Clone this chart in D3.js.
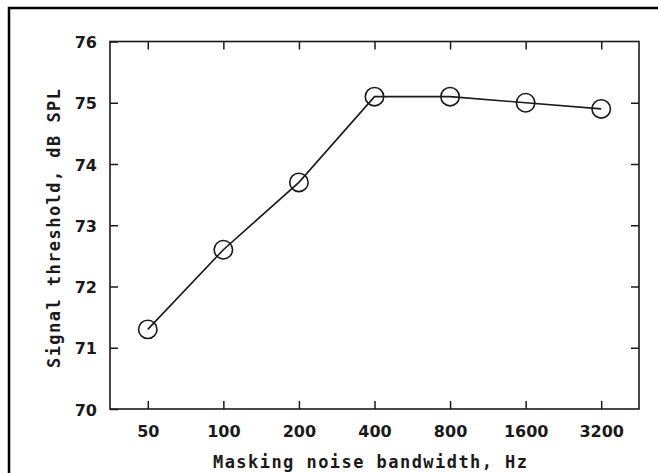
<!DOCTYPE html>
<html><head><meta charset="utf-8">
<script src="https://cdn.jsdelivr.net/npm/d3@7"></script>
<style>
html,body{margin:0;padding:0;background:#fff;}
svg{display:block;}
</style></head>
<body>
<svg id="chart" width="658" height="473"></svg>
<script>
const bandwidths = [50, 100, 200, 400, 800, 1600, 3200];
const thresholds = [71.3, 72.6, 73.7, 75.1, 75.1, 75.0, 74.9];
const xTickLabels = ["50", "100", "200", "400", "800", "1600", "3200"];
const yTicks = [70, 71, 72, 73, 74, 75, 76];
const xTitle = "Masking noise bandwidth, Hz";
const yTitle = "Signal threshold, dB SPL";

const svg = d3.select("#chart");
const m = {left: 110, top: 41.5, right: 639, bottom: 409};
const x = d3.scaleLog().base(2).domain([50 / Math.SQRT2, 3200 * Math.SQRT2]).range([m.left, m.right]);
const y = d3.scaleLinear().domain([70, 76]).range([m.bottom, m.top]);

const ink = "#1a1a1a";
const tickFont = "'DejaVu Sans', sans-serif";
const monoFont = "'DejaVu Sans Mono', monospace";

// outer frame (only top and left visible)
svg.append("path").attr("d", "M9,700 L9,8 L700,8")
  .attr("fill", "none").attr("stroke", "#000").attr("stroke-width", 2.5);

// plot box
svg.append("rect").attr("x", m.left).attr("y", m.top)
  .attr("width", m.right - m.left).attr("height", m.bottom - m.top)
  .attr("fill", "none").attr("stroke", ink).attr("stroke-width", 1.6);

const tl = 8;
function styleAxis(g) {
  g.select(".domain").remove();
  g.selectAll(".tick line").attr("stroke", ink).attr("stroke-width", 1.5);
}
// bottom axis (ticks inward)
svg.append("g").attr("transform", `translate(0,${m.bottom})`)
  .call(d3.axisBottom(x).tickValues(bandwidths).tickSize(-tl).tickFormat((d, i) => xTickLabels[i]))
  .call(styleAxis)
  .call(g => g.selectAll(".tick text").attr("y", 28).attr("dy", 0)
    .attr("font-family", tickFont).attr("font-weight", "bold").attr("font-size", 16).attr("fill", ink));
// top axis
svg.append("g").attr("transform", `translate(0,${m.top})`)
  .call(d3.axisTop(x).tickValues(bandwidths).tickSize(-tl).tickFormat(""))
  .call(styleAxis);
// left axis
svg.append("g").attr("transform", `translate(${m.left},0)`)
  .call(d3.axisLeft(y).tickValues(yTicks).tickSize(-tl).tickFormat(d3.format("d")))
  .call(styleAxis)
  .call(g => g.selectAll(".tick text").attr("x", -13).attr("dy", "0.38em")
    .attr("font-family", tickFont).attr("font-weight", "bold").attr("font-size", 16).attr("fill", ink));
// right axis
svg.append("g").attr("transform", `translate(${m.right},0)`)
  .call(d3.axisRight(y).tickValues(yTicks.slice(1, -1)).tickSize(-tl).tickFormat(""))
  .call(styleAxis);

// data line
const line = d3.line().x((d, i) => x(bandwidths[i])).y(d => y(d));
svg.append("path").datum(thresholds).attr("d", line)
  .attr("fill", "none").attr("stroke", ink).attr("stroke-width", 1.6);
svg.selectAll("circle.pt").data(thresholds).join("circle").attr("class", "pt")
  .attr("cx", (d, i) => x(bandwidths[i])).attr("cy", d => y(d)).attr("r", 9.2)
  .attr("fill", "none").attr("stroke", ink).attr("stroke-width", 1.6);

// titles
svg.append("text").attr("x", 213).attr("y", 467.5)
  .attr("font-family", monoFont).attr("font-weight", "bold").attr("font-size", 17)
  .attr("letter-spacing", 1.45).attr("fill", ink).text(xTitle);
svg.append("text").attr("transform", "translate(59.5,368) rotate(-90)")
  .attr("font-family", monoFont).attr("font-weight", "bold").attr("font-size", 17)
  .attr("letter-spacing", 1.45).attr("fill", ink).text(yTitle);
</script>
</body></html>
